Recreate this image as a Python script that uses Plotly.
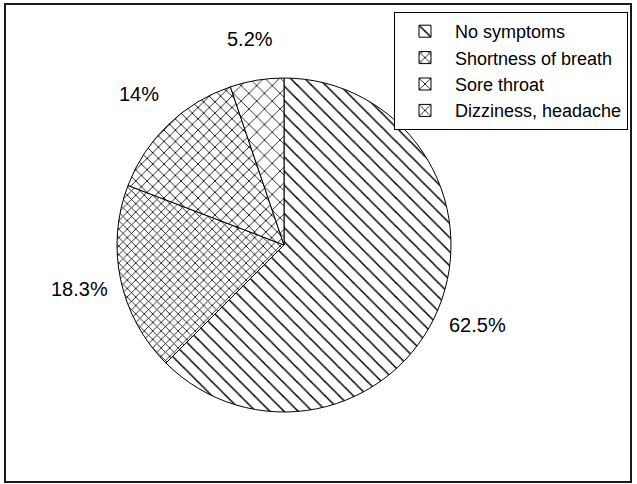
import math
import plotly.graph_objects as go

categories = ["No symptoms", "Shortness of breath", "Sore throat", "Dizziness, headache"]
values = [62.5, 18.3, 14, 5.2]
label_texts = ["62.5%", "18.3%", "14%", "5.2%"]

W, H = 637, 484
dom_x = [117 / W, 451 / W]
dom_y = [72 / H, 406 / H]

patterns = [
    dict(shape="\\", size=10, solidity=0.15),
    dict(shape="x", size=6, solidity=0.25),
    dict(shape="x", size=8, solidity=0.2),
    dict(shape="x", size=11, solidity=0.14),
]

fig = go.Figure()
fig.add_trace(go.Pie(
    labels=categories,
    values=values,
    sort=False,
    direction="clockwise",
    rotation=0,
    textinfo="none",
    hoverinfo="label+percent",
    domain=dict(x=dom_x, y=dom_y),
    marker=dict(
        colors=["white"] * 4,
        line=dict(color="black", width=1),
        pattern=dict(
            shape=[p["shape"] for p in patterns],
            size=[p["size"] for p in patterns],
            solidity=[p["solidity"] for p in patterns],
            fgcolor="black",
            bgcolor="white",
            fgopacity=1,
            fillmode="replace",
        ),
    ),
))

# outside labels placed along each slice's bisector
cx = (dom_x[0] + dom_x[1]) / 2 * W
cy = (1 - (dom_y[0] + dom_y[1]) / 2) * H
r = (dom_x[1] - dom_x[0]) * W / 2
total = sum(values)
cum = 0
for v, t in zip(values, label_texts):
    mid = (cum + v / 2) / total * 2 * math.pi
    cum += v
    px = cx + (r + 42) * math.sin(mid)
    py = cy - (r + 42) * math.cos(mid)
    fig.add_annotation(
        x=px / W, y=1 - py / H, xref="paper", yref="paper",
        text=t, showarrow=False, xanchor="center", yanchor="middle",
        font=dict(size=20, color="black", family="Liberation Sans, Arial, sans-serif"),
    )

fig.add_shape(type="rect", xref="paper", yref="paper",
              x0=5 / W, x1=631 / W, y0=2 / H, y1=1 - 4 / H,
              line=dict(color="#1a1a1a", width=2))

fig.update_layout(
    width=W, height=H,
    margin=dict(l=0, r=0, t=0, b=0),
    paper_bgcolor="white",
    plot_bgcolor="white",
    font=dict(family="Liberation Sans, Arial, sans-serif", color="black"),
    showlegend=True,
    legend=dict(
        x=628 / W, xanchor="right", y=1 - 12 / H, yanchor="top",
        font=dict(size=18, color="black"),
        bordercolor="black", borderwidth=1, bgcolor="white",
        tracegroupgap=0, itemwidth=50,
    ),
)

fig.write_html(
    "out.html",
    config={"displayModeBar": False},
    post_script="document.body.style.margin='0';document.body.style.overflow='hidden';",
)
